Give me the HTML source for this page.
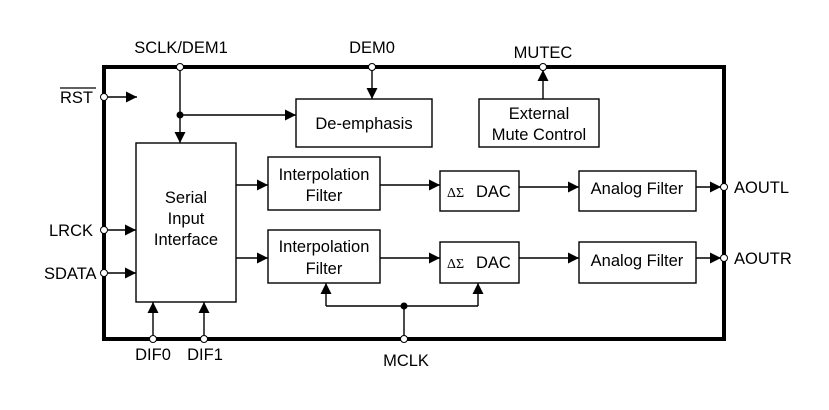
<!DOCTYPE html>
<html><head><style>body{margin:0;background:#fff}</style></head><body>
<svg width="829" height="405" viewBox="0 0 829 405" xmlns="http://www.w3.org/2000/svg" font-family="Liberation Sans, sans-serif" font-size="16.5" fill="#000">
<defs><marker id="a" viewBox="0 0 10 10" refX="10" refY="5" markerWidth="11" markerHeight="11" markerUnits="userSpaceOnUse" orient="auto"><path d="M0,0L10,5L0,10z"/></marker></defs>
<rect x="104" y="67" width="620" height="272" fill="none" stroke="#000" stroke-width="4"/>
<g fill="none" stroke="#000" stroke-width="1.4">
<rect x="296" y="99" width="136" height="48"/>
<rect x="479" y="99" width="120" height="48"/>
<rect x="136" y="143" width="100" height="159"/>
<rect x="268" y="157" width="112" height="53"/>
<rect x="268" y="230" width="112" height="53"/>
<rect x="440" y="171" width="79" height="40"/>
<rect x="440" y="242" width="79" height="41"/>
<rect x="579" y="171" width="117" height="40"/>
<rect x="579" y="242" width="117" height="41"/>
<g marker-end="url(#a)">
<line x1="108" y1="97" x2="137" y2="97"/>
<line x1="180" y1="70" x2="180" y2="143"/>
<line x1="180" y1="115" x2="296" y2="115"/>
<line x1="372" y1="70" x2="372" y2="99"/>
<line x1="543" y1="99" x2="543" y2="70"/>
<line x1="108" y1="230" x2="136" y2="230"/>
<line x1="108" y1="273" x2="136" y2="273"/>
<line x1="153" y1="335" x2="153" y2="302"/>
<line x1="204" y1="335" x2="204" y2="302"/>
<line x1="236" y1="185" x2="268" y2="185"/>
<line x1="236" y1="258" x2="268" y2="258"/>
<line x1="380" y1="185" x2="440" y2="185"/>
<line x1="380" y1="258" x2="440" y2="258"/>
<line x1="519" y1="187" x2="579" y2="187"/>
<line x1="519" y1="258" x2="579" y2="258"/>
<line x1="696" y1="187" x2="721" y2="187"/>
<line x1="696" y1="258" x2="721" y2="258"/>
<line x1="326" y1="306" x2="326" y2="283"/>
<line x1="478" y1="306" x2="478" y2="283"/>
</g>
<line x1="326" y1="306" x2="478" y2="306"/>
<line x1="404" y1="306" x2="404" y2="336"/>
</g>
<g fill="#fff" stroke="#000" stroke-width="1">
<circle cx="180" cy="67" r="3.5"/><circle cx="372" cy="67" r="3.5"/><circle cx="543" cy="67" r="3.5"/>
<circle cx="104" cy="97" r="3.5"/><circle cx="104" cy="230" r="3.5"/><circle cx="104" cy="273" r="3.5"/>
<circle cx="153" cy="339" r="3.5"/><circle cx="204" cy="339" r="3.5"/><circle cx="404" cy="339" r="3.5"/>
<circle cx="724" cy="187" r="3.5"/><circle cx="724" cy="258" r="3.5"/>
</g>
<circle cx="180" cy="115" r="3.5"/><circle cx="404" cy="306" r="3.5"/>
<text x="181" y="53" text-anchor="middle">SCLK/DEM1</text>
<text x="372" y="53" text-anchor="middle">DEM0</text>
<text x="543" y="58" text-anchor="middle">MUTEC</text>
<text x="60" y="103">RST</text><line x1="60" y1="88" x2="96" y2="88" stroke="#000" stroke-width="1.2"/>
<text x="49" y="236">LRCK</text>
<text x="44" y="279">SDATA</text>
<text x="153" y="360" text-anchor="middle">DIF0</text>
<text x="205" y="360" text-anchor="middle">DIF1</text>
<text x="406" y="366" text-anchor="middle">MCLK</text>
<text x="734" y="193">AOUTL</text>
<text x="734" y="264">AOUTR</text>
<text x="364" y="129" text-anchor="middle">De-emphasis</text>
<text x="539" y="119" text-anchor="middle">External</text>
<text x="539" y="140" text-anchor="middle">Mute Control</text>
<text x="186" y="203" text-anchor="middle">Serial</text>
<text x="186" y="224" text-anchor="middle">Input</text>
<text x="186" y="245" text-anchor="middle">Interface</text>
<text x="324" y="180" text-anchor="middle">Interpolation</text>
<text x="324" y="201" text-anchor="middle">Filter</text>
<text x="324" y="252" text-anchor="middle">Interpolation</text>
<text x="324" y="274" text-anchor="middle">Filter</text>
<text x="447" y="197" font-family="Liberation Serif, serif" font-size="14">ΔΣ</text><text x="476" y="197">DAC</text>
<text x="447" y="268" font-family="Liberation Serif, serif" font-size="14">ΔΣ</text><text x="476" y="268">DAC</text>
<text x="637" y="194" text-anchor="middle">Analog Filter</text>
<text x="637" y="266" text-anchor="middle">Analog Filter</text>
</svg>
</body></html>
